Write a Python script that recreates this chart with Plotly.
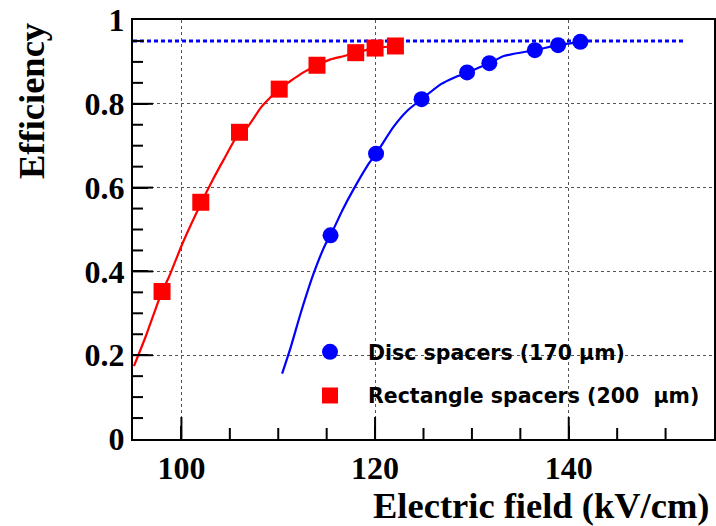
import plotly.graph_objects as go

# Data points
disc_x = [115.4, 120.1, 124.8, 129.5, 131.8, 136.5, 138.9, 141.2]
disc_y = [0.486, 0.681, 0.811, 0.875, 0.897, 0.928, 0.940, 0.948]

rect_x = [98.0, 102.0, 106.0, 110.1, 114.0, 118.0, 120.0, 122.1]
rect_y = [0.352, 0.565, 0.732, 0.835, 0.892, 0.922, 0.933, 0.938]

# Fit curves
rect_fit_x = [95.1, 96.3, 98.0, 98.7, 100.1, 101.5, 103.2, 104.4, 106.0, 106.8, 108.2, 109.0, 110.1, 111.3, 112.6, 114.0, 115.4, 116.8, 118.0, 120.0, 122.1]
rect_fit_y = [0.174, 0.244, 0.352, 0.386, 0.466, 0.537, 0.617, 0.668, 0.732, 0.744, 0.791, 0.811, 0.835, 0.855, 0.875, 0.892, 0.906, 0.914, 0.922, 0.933, 0.938]

disc_fit_x = [110.4, 111.3, 112.3, 113.7, 114.9, 115.4, 116.6, 117.8, 119.2, 120.1, 121.9, 123.3, 124.8, 126.8, 128.2, 129.5, 131.8, 133.3, 136.5, 138.9, 141.2]
disc_fit_y = [0.156, 0.220, 0.299, 0.398, 0.466, 0.486, 0.545, 0.597, 0.652, 0.681, 0.745, 0.783, 0.811, 0.847, 0.863, 0.875, 0.897, 0.914, 0.928, 0.940, 0.948]

ref_x = [95, 152]
ref_y = [0.95, 0.95]

x_range = [95, 155]
y_range = [0, 1]
x_major = [100, 120, 140]
x_minor = [105, 110, 115, 125, 130, 135, 145, 150]
y_major = [0.2, 0.4, 0.6, 0.8]
y_minor = [0.05, 0.1, 0.15, 0.25, 0.3, 0.35, 0.45, 0.5, 0.55, 0.65, 0.7, 0.75, 0.85, 0.9, 0.95]

RED = "#ff0000"
BLUE = "#0000ff"

W, H = 716, 526
ML, MR, MT, MB = 133, 2, 20, 87
plot_w = W - ML - MR
plot_h = H - MT - MB
x_per_px = (x_range[1] - x_range[0]) / plot_w
y_per_px = (y_range[1] - y_range[0]) / plot_h

# tick-mark polyline (inside ticks on bottom and left axes)
tick_x, tick_y = [], []
for v, ln in [(v, 22) for v in x_major] + [(v, 11) for v in x_minor]:
    tick_x += [v, v, None]
    tick_y += [y_range[0], y_range[0] + ln * y_per_px, None]
for v, ln in [(v, 20) for v in y_major] + [(v, 10) for v in y_minor]:
    tick_x += [x_range[0], x_range[0] + ln * x_per_px, None]
    tick_y += [v, v, None]

fig = go.Figure()

fig.add_trace(go.Scatter(x=ref_x, y=ref_y, mode="lines", showlegend=False,
                         line=dict(color=BLUE, width=3, dash="4px,3px"), hoverinfo="skip"))
fig.add_trace(go.Scatter(x=tick_x, y=tick_y, mode="lines", showlegend=False,
                         line=dict(color="#000", width=2), hoverinfo="skip", connectgaps=False))
fig.add_trace(go.Scatter(x=rect_fit_x, y=rect_fit_y, mode="lines", showlegend=False,
                         line=dict(color=RED, width=2.2, shape="spline", smoothing=0.6)))
fig.add_trace(go.Scatter(x=disc_fit_x, y=disc_fit_y, mode="lines", showlegend=False,
                         line=dict(color=BLUE, width=2.2, shape="spline", smoothing=0.6)))
fig.add_trace(go.Scatter(x=disc_x, y=disc_y, mode="markers", name="Disc spacers (170 μm)",
                         legendgroup="a",
                         marker=dict(symbol="circle", size=16, color=BLUE, line=dict(width=0))))
fig.add_trace(go.Scatter(x=rect_x, y=rect_y, mode="markers", name="Rectangle spacers (200\u00a0 μm)",
                         legendgroup="b",
                         marker=dict(symbol="square", size=17, color=RED, line=dict(width=0))))

tickfont = dict(family="Liberation Serif", size=32, color="black", weight="bold")

fig.update_layout(
    template="none",
    width=W, height=H,
    margin=dict(l=ML, r=MR, t=MT, b=MB),
    paper_bgcolor="white", plot_bgcolor="white",
    showlegend=True,
    legend=dict(x=(292 - 133) / 581, y=(439 - 332) / 419, xanchor="left", yanchor="top",
                bgcolor="rgba(0,0,0,0)", borderwidth=0,
                font=dict(family="DejaVu Sans", size=20.5, color="black", weight="bold"),
                itemwidth=66, tracegroupgap=14, traceorder="grouped"),
    xaxis=dict(range=x_range, tickmode="array", tickvals=x_major,
               ticks="inside", ticklen=13, tickwidth=2, tickcolor="#000",
               showline=True, linewidth=2, linecolor="#000", mirror=True,
               showgrid=True, gridcolor="#555", griddash="dot", gridwidth=1,
               zeroline=False, tickfont=tickfont),
    yaxis=dict(range=y_range, tickmode="linear", tick0=0, dtick=0.2,
               ticks="inside", ticklen=15, tickwidth=2, tickcolor="#000",
               showline=True, linewidth=2, linecolor="#000", mirror=True,
               showgrid=True, gridcolor="#555", griddash="dot", gridwidth=1,
               zeroline=False, tickfont=tickfont),
    annotations=[
        dict(text="Efficiency", xref="paper", yref="paper",
             x=(31 - 133) / 581, y=(439 - 101) / 419, xanchor="center", yanchor="middle",
             textangle=-90, showarrow=False,
             font=dict(family="Liberation Serif", size=36.5, color="black", weight="bold")),
        dict(text="Electric field (kV/cm)", xref="paper", yref="paper",
             x=(711 - 133) / 581, y=(439 - 505) / 419, xanchor="right", yanchor="middle",
             showarrow=False,
             font=dict(family="Liberation Serif", size=36.5, color="black", weight="bold")),
    ],
)

fig.write_html("out.html")
